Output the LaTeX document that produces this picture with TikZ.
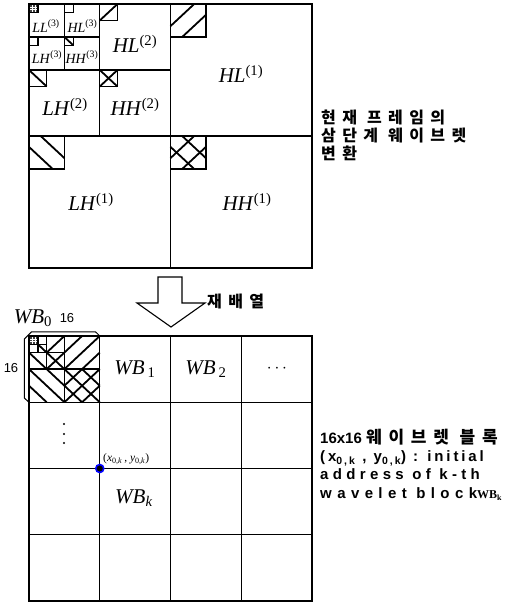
\documentclass[tikz,border=0pt]{standalone}
\usepackage{fontspec}
\setmainfont{Liberation Serif}
\setsansfont{Liberation Sans}
\newfontfamily\kr{Noto Sans CJK KR}[LetterSpace=40]
\newfontfamily\gul{Liberation Sans}
\newfontfamily\gulA{Liberation Sans}[LetterSpace=19]
\newfontfamily\gulB{Liberation Sans}[LetterSpace=29]
\newfontfamily\gulC{Liberation Sans}[LetterSpace=36]
\newfontfamily\gulplain{Liberation Sans}
% hatched square: x, y, w, h, content (unit square, v downward)
\newcommand\HSq[5]{\begin{scope}[shift={(#1,#2)},xscale=#3,yscale=#4]#5\draw[hfr] (0,0) rectangle (1,1);\end{scope}}
\newcommand\PatFa{\draw[hl] (0,0.67)--(0.67,0) (0.33,1)--(1,0.33);}
\newcommand\PatBa{\draw[hl] (0.33,0)--(1,0.67) (0,0.33)--(0.67,1);}
\newcommand\PatFb{\draw[hl] (0,0.5)--(0.5,0) (0,1)--(1,0) (0.5,1)--(1,0.5);}
\newcommand\PatBb{\draw[hl] (0.5,0)--(1,0.5) (0,0)--(1,1) (0,0.5)--(0.5,1);}
\newcommand\PatFd{\draw[hl] (0,1)--(1,0);}
\newcommand\PatBd{\draw[hl] (0,0)--(1,1);}
\newcommand\PatGrid{\fill[black!75] (0,0) rectangle (1,1);\draw[white,line width=0.4pt] (0.33,0)--(0.33,1) (0.67,0)--(0.67,1) (0,0.33)--(1,0.33) (0,0.67)--(1,0.67);}
\newcommand\Lab[2]{\textit{#1}\textsuperscript{(#2)}}
\begin{document}
\begin{tikzpicture}[x=1pt,y=-1pt,
  fr/.style={line width=1.4pt},
  hl/.style={line width=1.8pt},
  hfr/.style={line width=1.4pt},
  lab/.style={font=\fontsize{21}{24}\selectfont, inner sep=0pt},
  labs/.style={font=\fontsize{14}{16}\selectfont, inner sep=0pt},
  wb/.style={font=\fontsize{21}{24}\selectfont, inner sep=0pt},
  krtext/.style={font=\kr\bfseries\fontsize{16}{18}\selectfont, inner sep=0pt, align=left},
  entext/.style={font=\gul\bfseries\fontsize{15}{18.4}\selectfont, inner sep=0pt, align=left},
  vdot/.style={circle, fill=black, inner sep=0pt, minimum size=2.4pt}]
\useasboundingbox (0,0) rectangle (511,603);

% ---------- top: three-level wavelet decomposition ----------
\draw[fr] (29,4) rectangle (312,268);
\draw[fr] (170.5,4) -- (170.5,268);
\draw[fr] (29,136) -- (312,136);
\draw[fr] (99.75,4) -- (99.75,136);
\draw[fr] (29,70) -- (170.5,70);
\draw[fr] (64.4,4) -- (64.4,70);
\draw[fr] (29,37) -- (99.75,37);

\HSq{170.5}{4}{35.4}{33}{\PatFa}
\HSq{29}{136}{35.4}{33}{\PatBa}
\HSq{170.5}{136}{35.4}{33}{\PatFa\PatBa}
\HSq{99.75}{4}{17.7}{16.5}{\PatFd}
\HSq{29}{70}{17.7}{16.5}{\PatBd}
\HSq{99.75}{70}{17.7}{16.5}{\PatFd\PatBd}
\HSq{29}{4}{8.85}{8.25}{\PatGrid}
\HSq{64.4}{4}{8.85}{8.25}{}
\HSq{29}{37}{8.85}{8.25}{}
\HSq{64.4}{37}{8.85}{8.25}{\PatBd}

\node[labs] (ll3) at (46,26) {\Lab{LL}{3}};
\node[labs] (hl3) at (82.5,26) {\Lab{HL}{3}};
\node[labs] (lh3) at (47,57) {\Lab{LH}{3}};
\node[labs] (hh3) at (82,57) {\Lab{HH}{3}};
\node[lab] (hl2) at (135,44) {\Lab{HL}{2}};
\node[lab] (lh2) at (65,107) {\Lab{LH}{2}};
\node[lab] (hh2) at (135,107) {\Lab{HH}{2}};
\node[lab] (hl1) at (241,74) {\Lab{HL}{1}};
\node[lab] (lh1) at (91,202) {\Lab{LH}{1}};
\node[lab] (hh1) at (247,202) {\Lab{HH}{1}};

\node[krtext, anchor=west] (t1) at (321,135) {현재 프레임의\\삼단계 웨이브렛\\변환};

% ---------- arrow ----------
\draw[line width=1.1pt] (158,277) -- (182,277) -- (182,303) -- (205,303) -- (171,327) -- (137,303) -- (158,303) -- cycle;
\node[krtext, anchor=west] (re) at (207,301) {재배열};

% ---------- bottom: wavelet blocks ----------
\draw[fr] (29,336) rectangle (312,601);
\foreach \xx in {99.75,170.5,241.25} \draw[fr] (\xx,336) -- (\xx,601);
\foreach \yy in {402.25,468.5,534.75} \draw[fr] (29,\yy) -- (312,\yy);

% WB0 content
\HSq{64.375}{336}{35.375}{33.125}{\PatFb}
\HSq{29}{369.125}{35.375}{33.125}{\PatBb}
\HSq{64.375}{369.125}{35.375}{33.125}{\PatFb\PatBb}
\HSq{46.69}{336}{17.69}{16.56}{\PatFd}
\HSq{29}{352.56}{17.69}{16.56}{\PatBd}
\HSq{46.69}{352.56}{17.69}{16.56}{\PatFd\PatBd}
\HSq{29}{336}{8.84}{8.28}{\PatGrid}
\HSq{37.84}{336}{8.84}{8.28}{}
\HSq{29}{344.28}{8.84}{8.28}{}
\HSq{37.84}{344.28}{8.84}{8.28}{\PatBd}

% bracket around WB0
\draw[line width=1pt] (29,402.25) -- (24.3,398) -- (24.3,339) -- (31.5,331.8) -- (95.5,331.8) -- (99.75,336);

\node[lab] (wb0) at (33,318) {\textit{WB}\textsubscript{0}};
\node[font=\gulplain\fontsize{13}{14}\selectfont, inner sep=0] (n16a) at (67,318) {16};
\node[font=\gulplain\fontsize{13}{14}\selectfont, inner sep=0] (n16b) at (11,368) {16};

\node[wb] (wb1) at (135,369) {\textit{WB}\kern3pt\textsubscript{1}};
\node[wb] (wb2) at (206,369) {\textit{WB}\kern3pt\textsubscript{2}};
\node[wb] (wbk) at (134,498) {\textit{WB}\textsubscript{\textit{k}}};
\node[font=\fontsize{17}{18}\selectfont, inner sep=0] (hd) at (277,369) {$\cdots$};
\node[vdot] (vd1) at (64,424) {};
\node[vdot] (vd2) at (64,434) {};
\node[vdot] (vd3) at (64,443) {};

\node[circle, draw=blue, fill=black, line width=1.6pt, inner sep=0pt, minimum size=8pt] (p0) at (99.75,468.5) {};
\node[anchor=south west, font=\fontsize{11.5}{13}\selectfont, inner sep=0pt] (p0l) at (103,464.5)
  {(\textit{x}\textsubscript{0,\textit{k}}\,, \textit{y}\textsubscript{0,\textit{k}})};

\node[entext, anchor=west] (t2) at (320,464.5)
  {16x16 {\kr\fontsize{17}{18.4}\selectfont 웨이브렛 블록}\\
   {\gulA\bfseries (x\textsubscript{0,k} , y\textsubscript{0,k}) : initial}\\
   {\gulB\bfseries address of k-th}\\
   {\gulC\bfseries wavelet block}{\rmfamily\bfseries\fontsize{12}{12}\selectfont WB\textsubscript{k}}};
\end{tikzpicture}
\end{document}
